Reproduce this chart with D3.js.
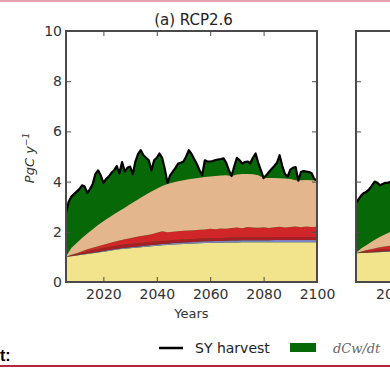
<!DOCTYPE html>
<html>
<head>
<meta charset="utf-8">
<script src="https://cdn.jsdelivr.net/npm/d3@7"></script>
<style>
  html, body { margin: 0; padding: 0; background: #fff; }
  svg { display: block; }
  text { font-family: "DejaVu Sans", sans-serif; }
</style>
</head>
<body>
<svg id="chart" width="390" height="369"></svg>
<script>
// ---- data -------------------------------------------------------------
// x grid for the stacked components (every 2 years) and for the harvest line (yearly)
const layerYears = d3.range(2006, 2101, 2);
const harvestYears = d3.range(2006, 2101, 1);

// stacked component fluxes, PgC/yr (bottom to top)
const yellowFlux = [1.00,1.03,1.06,1.09,1.12,1.15,1.18,1.21,1.24,1.27,
                    1.30,1.32,1.34,1.36,1.38,1.40,1.42,1.44,1.46,1.47,
                    1.49,1.50,1.51,1.52,1.53,1.54,1.55,1.55,1.56,1.56,
                    1.57,1.57,1.57,1.58,1.58,1.58,1.58,1.58,1.58,1.58,
                    1.58,1.58,1.58,1.58,1.58,1.58,1.58,1.58];
const blueFlux   = [0.01,0.01,0.01,0.02,0.02,0.02,0.02,0.03,0.03,0.03,
                    0.03,0.04,0.04,0.04,0.04,0.05,0.05,0.05,0.05,0.05,
                    0.06,0.06,0.06,0.06,0.06,0.07,0.07,0.07,0.07,0.07,
                    0.07,0.08,0.08,0.08,0.08,0.08,0.08,0.08,0.08,0.09,
                    0.09,0.09,0.09,0.09,0.09,0.09,0.09,0.09];
const brownFlux  = [0.00,0.03,0.05,0.07,0.09,0.10,0.11,0.12,0.12,0.13,
                    0.13,0.13,0.13,0.13,0.13,0.13,0.13,0.12,0.12,0.12,
                    0.12,0.12,0.12,0.12,0.12,0.12,0.12,0.12,0.12,0.12,
                    0.12,0.12,0.12,0.12,0.12,0.12,0.12,0.12,0.12,0.12,
                    0.12,0.12,0.12,0.12,0.12,0.12,0.12,0.12];
const redFlux    = [0.00,0.02,0.03,0.05,0.07,0.09,0.11,0.12,0.15,0.17,
                    0.19,0.21,0.23,0.26,0.28,0.28,0.30,0.35,0.39,0.34,
                    0.33,0.34,0.35,0.35,0.35,0.35,0.35,0.38,0.35,0.38,
                    0.36,0.38,0.40,0.36,0.41,0.39,0.38,0.40,0.37,0.39,
                    0.41,0.38,0.40,0.42,0.39,0.42,0.40,0.41];
const tanFlux    = [0.01,0.26,0.40,0.52,0.63,0.74,0.85,0.94,1.02,1.10,
                    1.18,1.26,1.36,1.44,1.53,1.63,1.71,1.76,1.80,1.92,
                    1.96,1.99,2.01,2.04,2.06,2.07,2.09,2.08,2.12,2.11,
                    2.13,2.07,2.11,2.16,2.11,2.12,2.09,1.96,1.99,1.96,
                    1.93,1.95,1.91,1.84,1.87,1.85,1.86,1.83];

// sustainable-yield harvest (total), yearly
const syHarvest = [2.75,3.20,3.40,3.50,3.60,3.70,3.85,3.80,3.55,3.70,
                   3.90,4.30,4.45,4.25,3.95,4.10,4.20,4.35,4.45,4.62,
                   4.33,4.78,4.40,4.55,4.60,4.30,4.80,5.10,5.25,5.05,
                   4.95,4.85,4.45,4.85,4.95,5.12,4.95,4.50,3.95,4.25,
                   4.40,4.55,4.72,4.75,4.80,5.00,5.25,5.10,4.90,4.70,
                   4.45,4.25,4.85,4.80,4.80,4.82,4.86,4.88,4.90,4.93,
                   4.75,4.45,4.22,4.60,4.95,4.85,4.72,4.78,4.80,4.73,
                   4.95,5.12,4.75,4.45,4.14,4.25,4.38,4.50,4.62,4.75,
                   5.05,4.62,4.30,4.20,4.48,4.55,4.58,4.04,4.38,4.42,
                   4.40,4.38,4.33,4.10,4.05];

// second scenario panel (only its first years are in view)
const layerYearsB = d3.range(2006, 2021, 2);
const harvestYearsB = d3.range(2006, 2021, 1);
const yellowFluxB = [1.15,1.16,1.17,1.18,1.19,1.20,1.21,1.22];
const blueFluxB   = [0.01,0.01,0.01,0.01,0.02,0.02,0.02,0.02];
const brownFluxB  = [0.00,0.03,0.05,0.06,0.07,0.08,0.08,0.09];
const redFluxB    = [0.00,0.02,0.04,0.06,0.08,0.10,0.12,0.14];
const tanFluxB    = [0.01,0.12,0.20,0.30,0.38,0.45,0.52,0.60];
const syHarvestB  = [3.15,3.30,3.45,3.55,3.60,3.70,3.85,4.00,3.95,3.85,
                     3.90,3.95,3.95,4.00,4.10];

const yTicks = [0, 2, 4, 6, 8, 10];
const xTicks = [2020, 2040, 2060, 2080, 2100];

// ---- styling ----------------------------------------------------------
const layerKeys = ["yellow", "blue", "brown", "red", "tan"];
const layerColors = {
  yellow: "#f1e48c",
  blue: "#7e82c4",
  brown: "#a81e24",
  red: "#d0262a",
  tan: "#e3b68e"
};
const greenColor = "#076807";
const frameColor = "#4a4a4a";

const svg = d3.select("#chart");

// thin page rules
svg.append("rect").attr("x", 0).attr("y", 0).attr("width", 390).attr("height", 2).attr("fill", "#e6a2b0");
svg.append("rect").attr("x", 0).attr("y", 365).attr("width", 390).attr("height", 2).attr("fill", "#b3243f");

const plotTop = 31, plotBottom = 282, plotWidth = 251;
const y = d3.scaleLinear().domain([0, 10]).range([plotBottom, plotTop]);

function drawPanel(left, lYears, comps, hYears, harvest, opts) {
  const x = d3.scaleLinear().domain([2006, 2100]).range([left, left + plotWidth]);
  const g = svg.append("g");

  // dCw/dt: filled from the harvest line down, lower components overlay it
  const hData = hYears.map((yr, i) => ({ year: yr, v: harvest[i] }));
  g.append("path")
    .datum(hData)
    .attr("fill", greenColor)
    .attr("d", d3.area().x(d => x(d.year)).y0(y(0)).y1(d => y(d.v)));

  const rows = lYears.map((yr, i) => {
    const r = { year: yr };
    layerKeys.forEach(k => { r[k] = comps[k][i]; });
    return r;
  });
  const stacked = d3.stack().keys(layerKeys)(rows);
  const area = d3.area()
    .x(d => x(d.data.year))
    .y0(d => y(d[0]))
    .y1(d => y(d[1]));
  g.selectAll("path.layer")
    .data(stacked)
    .join("path")
    .attr("class", "layer")
    .attr("fill", d => layerColors[d.key])
    .attr("d", area);

  // SY harvest line
  g.append("path")
    .datum(hData)
    .attr("fill", "none")
    .attr("stroke", "#000")
    .attr("stroke-width", 2.2)
    .attr("stroke-linejoin", "round")
    .attr("d", d3.line().x(d => x(d.year)).y(d => y(d.v)));

  // inward ticks on all four sides
  const tickStyle = sel => {
    sel.select(".domain").remove();
    sel.selectAll(".tick line").attr("stroke", frameColor).attr("stroke-width", 1);
    sel.selectAll(".tick text")
      .attr("fill", "#333")
      .style("font-size", "14px")
      .style("font-family", "DejaVu Sans, sans-serif");
  };
  g.append("g").attr("transform", `translate(0,${plotBottom})`)
    .call(d3.axisBottom(x).tickValues(xTicks).tickFormat(d3.format("d")).tickSize(-5).tickPadding(7))
    .call(tickStyle);
  g.append("g").attr("transform", `translate(0,${plotTop})`)
    .call(d3.axisTop(x).tickValues(xTicks).tickFormat("").tickSize(-5))
    .call(tickStyle);
  g.append("g").attr("transform", `translate(${left},0)`)
    .call(d3.axisLeft(y).tickValues(yTicks).tickFormat(opts.yLabels ? d3.format("d") : "").tickSize(-5).tickPadding(4))
    .call(tickStyle);
  g.append("g").attr("transform", `translate(${left + plotWidth},0)`)
    .call(d3.axisRight(y).tickValues(yTicks).tickFormat("").tickSize(-5))
    .call(tickStyle);

  g.append("rect")
    .attr("x", left).attr("y", plotTop)
    .attr("width", plotWidth).attr("height", plotBottom - plotTop)
    .attr("fill", "none")
    .attr("stroke", frameColor)
    .attr("stroke-width", 2);

  if (opts.title) {
    g.append("text")
      .attr("x", left + plotWidth / 2 + 2).attr("y", 25)
      .attr("text-anchor", "middle")
      .attr("fill", "#222")
      .style("font-size", "15px")
      .text(opts.title);
  }
  if (opts.xLabel) {
    g.append("text")
      .attr("x", left + plotWidth / 2).attr("y", 318)
      .attr("text-anchor", "middle")
      .attr("fill", "#333")
      .style("font-size", "13px")
      .text(opts.xLabel);
  }
}

drawPanel(66, layerYears,
  { yellow: yellowFlux, blue: blueFlux, brown: brownFlux, red: redFlux, tan: tanFlux },
  harvestYears, syHarvest,
  { yLabels: true, title: "(a) RCP2.6", xLabel: "Years" });

drawPanel(356, layerYearsB,
  { yellow: yellowFluxB, blue: blueFluxB, brown: brownFluxB, red: redFluxB, tan: tanFluxB },
  harvestYearsB, syHarvestB,
  { yLabels: false });

// y-axis label: PgC y^-1
const yl = svg.append("text")
  .attr("transform", "translate(34,158) rotate(-90)")
  .attr("text-anchor", "middle")
  .attr("fill", "#333")
  .style("font-size", "13px")
  .style("font-style", "italic");
yl.append("tspan").text("PgC y");
yl.append("tspan").attr("dy", -5).style("font-size", "9px").text("−1");

// legend
svg.append("line")
  .attr("x1", 159).attr("x2", 183).attr("y1", 348).attr("y2", 348)
  .attr("stroke", "#000").attr("stroke-width", 2.5);
svg.append("text")
  .attr("x", 195).attr("y", 353)
  .attr("fill", "#222")
  .style("font-size", "14px")
  .text("SY harvest");
svg.append("rect")
  .attr("x", 290).attr("y", 343).attr("width", 26).attr("height", 9)
  .attr("fill", greenColor);
svg.append("text")
  .attr("x", 333).attr("y", 353)
  .attr("fill", "#666")
  .style("font-size", "13px")
  .style("font-style", "italic")
  .style("font-family", "DejaVu Serif, serif")
  .text("dCw/dt");

svg.append("text")
  .attr("x", 0).attr("y", 361)
  .attr("fill", "#000")
  .style("font-size", "16px")
  .style("font-weight", "bold")
  .style("font-family", "Liberation Sans, sans-serif")
  .text("t:");
</script>
</body>
</html>
